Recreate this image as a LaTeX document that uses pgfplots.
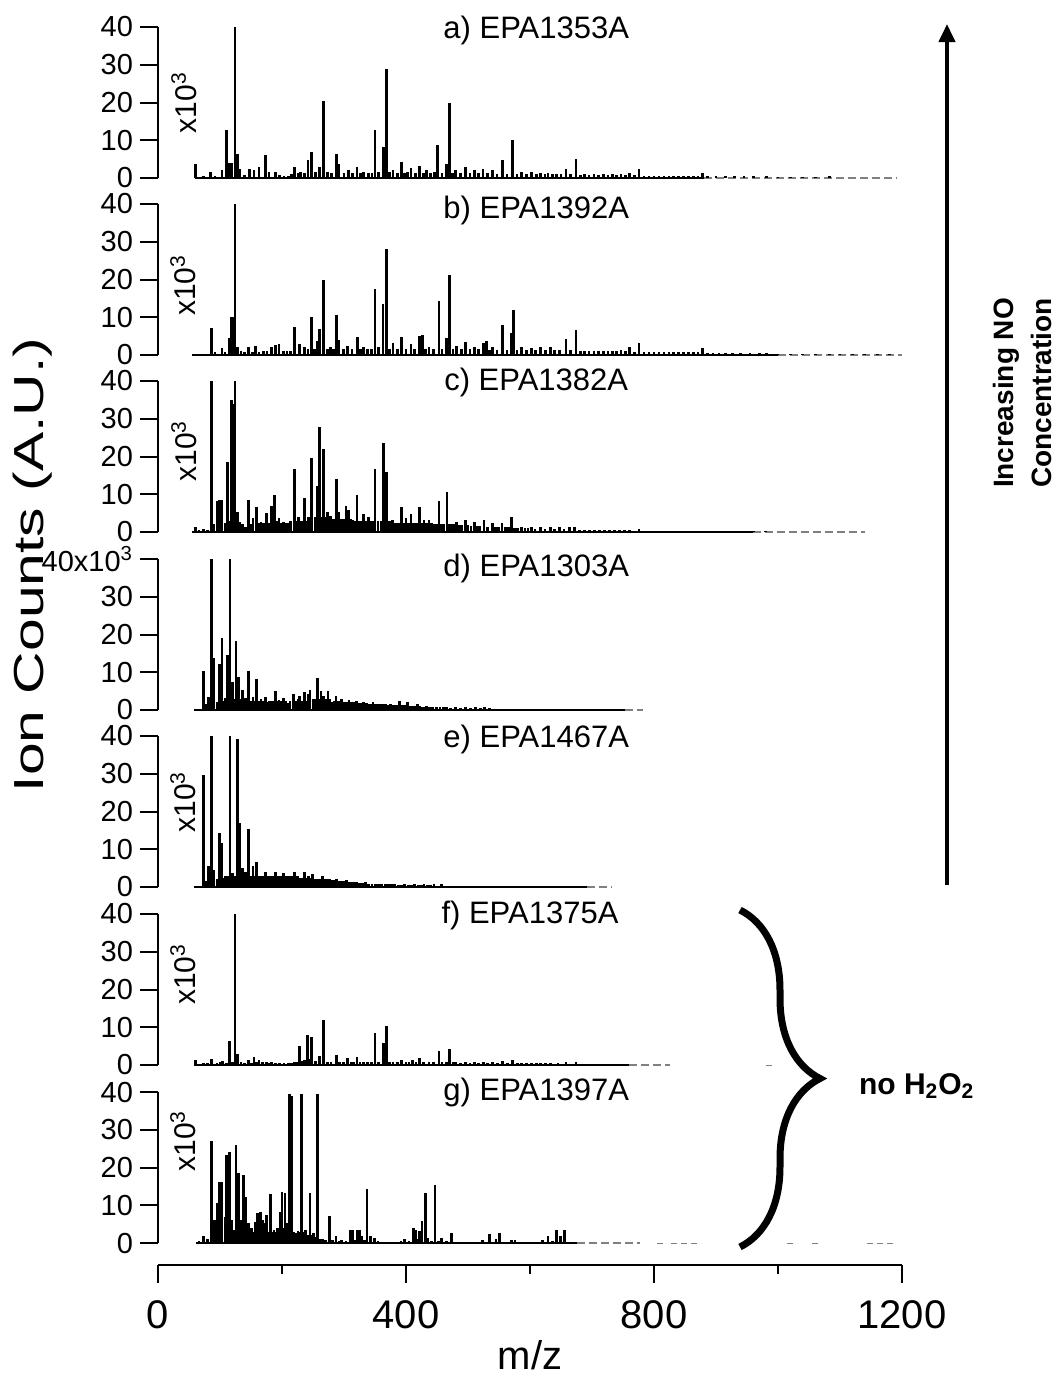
\documentclass[border=0pt]{standalone}
\usepackage{pgfplots}
\pgfplotsset{compat=1.18}
\usepackage{fontspec}
\setmainfont{Liberation Sans}
\setsansfont{Liberation Sans}
\usetikzlibrary{arrows.meta,decorations.pathreplacing}
\pgfplotsset{
 panel/.style={width=372pt,height=75.5pt,scale only axis,xmin=0,xmax=1200,ymin=0,ymax=40,
  axis x line=none, axis y line*=left, ytick={0,10,20,30,40}, tick align=outside,
  major tick length=9pt,
  axis line style={line width=1pt}, every tick/.style={black,line width=1pt},
  yticklabel style={font=\fontsize{14.5}{14.5}\selectfont},
  /pgf/number format/assume math mode=true, clip=false, anchor=south west},
 spec/.style={ycomb, black, line width=1.35pt, forget plot},
 base/.style={black, line width=0.6pt, forget plot},
 ext/.style={gray, line width=0.6pt, dash pattern=on 4pt off 2pt, forget plot},
 dots/.style={only marks, mark=-, mark size=1.5pt, gray, forget plot},
}
\newcommand{\ttl}[3]{\node[font=\fontsize{15.5}{15.5}\selectfont] at (axis cs:#1,#2) {#3};}
\newcommand{\xten}[2]{\node[rotate=90,font=\fontsize{15}{15}\selectfont] at (axis cs:#1,#2) {x10\textsuperscript{3}};}
\begin{document}
\begin{tikzpicture}
\path[use as bounding box] (0,0) rectangle (530pt,-689pt);

% a
\begin{axis}[panel, at={(79pt,-89pt)}]
\addplot[base] coordinates {(60,0) (880,0)};
\addplot[ext] coordinates {(880,0) (1190,0)};
\addplot[spec] coordinates {(60,3.7)(73,0.6)(85,1.5)(92,0.5)(103,2)(111,12.6)(115,4)(119,4)(124,40)(128,6.4)(132,2.4)(140,0.8)(148,2.4)(155,2)(163,2.8)(173,6.1)(179,1.5)(189,1.7)(196,0.7)(203,0.5)(210,0.6)(215,1)(220,3)(226,1.2)(230,1.5)(236,1.2)(242,4.8)(248,6.8)(254,1.5)(261,2.8)(267,20.4)(273,1.5)(280,1.2)(288,6.4)(292,3.7)(300,1.2)(307,2.2)(314,1.2)(321,2.8)(327,1.2)(332,1.5)(340,1.3)(345,1.2)(350,12.6)(356,1.5)(364,8.1)(368,28.8)(373,1.5)(379,2)(386,1.2)(393,4.3)(398,1.2)(402,1.5)(408,2.6)(415,1.2)(422,3.3)(428,1.2)(433,2)(440,1.2)(446,1.5)(451,8.8)(458,1.2)(465,3.7)(470,20)(475,1.2)(480,2)(488,1.2)(496,2.8)(503,1.2)(510,2)(517,1.2)(524,2.4)(532,1.2)(540,2.2)(547,1)(556,4.8)(563,1)(572,10.2)(579,1)(586,1.5)(594,1)(602,1.5)(610,1)(617,1.3)(624,1)(629,1.3)(636,1)(643,1)(650,1)(658,2.4)(665,1)(674,5)(681,0.8)(688,1)(695,0.8)(703,1)(710,0.8)(718,1)(726,0.8)(733,1)(740,0.7)(747,1)(754,0.7)(761,1.3)(769,0.7)(776,2.4)(784,0.6)(792,0.6)(800,0.6)(808,0.6)(816,0.5)(824,0.6)(832,0.5)(840,0.6)(848,0.5)(856,0.6)(864,0.5)(871,0.6)(878,1.3)(886,0.4)(900,0.4)(915,0.4)(930,0.4)(945,0.4)(960,0.4)(981,0.6)(1000,0.3)(1020,0.3)(1040,0.3)(1060,0.3)(1083,0.4)};
\ttl{610}{39}{a) EPA1353A}
\xten{42}{20}
\end{axis}

% b
\begin{axis}[panel, at={(79pt,-177.5pt)}]
\addplot[base] coordinates {(55,0) (1000,0)};
\addplot[ext] coordinates {(1000,0) (1200,0)};
\addplot[spec] coordinates {(60,0.3)(73,0.4)(86,7.1)(92,0.8)(103,1.8)(108,0.8)(115,4.4)(118,10)(122,10)(124,40)(128,2.2)(134,1)(140,0.8)(146,2.2)(152,0.8)(157,2.5)(163,0.8)(170,1)(176,1)(183,2.2)(189,2.7)(195,2.8)(202,1)(208,1)(214,1)(220,7.3)(228,2.8)(236,2)(242,1.5)(248,10)(252,1.5)(257,3.7)(261,6.9)(267,19.8)(273,1.5)(278,2)(283,1.5)(288,10.7)(292,4)(299,1.5)(306,2.5)(313,1.5)(322,4.9)(327,1.5)(332,2)(338,1.5)(344,1.5)(350,17.6)(356,2)(363,13.6)(368,28)(373,1.5)(379,3.1)(386,1.5)(393,4.7)(400,1.5)(408,2.8)(414,1.5)(422,5.1)(427,5.2)(432,1.5)(437,2)(444,1.5)(453,14.4)(458,1.5)(465,4.4)(470,21.3)(476,1.5)(482,2.4)(489,1.5)(496,3.4)(503,1.5)(510,2.2)(517,1.5)(525,3.1)(530,3.7)(535,1.3)(540,2)(547,1.3)(556,8)(563,1.3)(570,5.8)(573,12)(579,1.2)(586,2)(594,1.2)(602,1.8)(609,1.2)(617,2)(625,1.2)(633,2.2)(640,1.2)(648,1.3)(658,4.2)(665,1.2)(674,6.7)(681,1)(688,1.1)(695,1)(703,1)(710,1)(718,1)(726,1)(733,1)(740,1)(747,1.2)(754,1)(761,2)(769,0.8)(776,3.1)(784,0.8)(792,0.8)(800,0.7)(808,0.8)(816,0.7)(824,0.7)(832,0.7)(840,0.7)(848,0.7)(856,0.7)(864,0.7)(871,0.8)(878,1.8)(886,0.5)(895,0.5)(905,0.5)(915,0.5)(927,0.5)(940,0.5)(955,0.5)(970,0.5)(981,0.6)(1000,0.4)(1020,0.4)(1040,0.4)(1060,0.3)(1083,0.4)(1100,0.3)(1120,0.3)(1140,0.3)(1160,0.3)(1180,0.3)};
\ttl{610}{38.4}{b) EPA1392A}
\xten{40}{18.5}
\end{axis}

% c
\begin{axis}[panel, at={(79pt,-266pt)}]
\addplot[base] coordinates {(55,0) (960,0)};
\addplot[ext] coordinates {(960,0) (1140,0)};
\addplot[spec] coordinates {(60,1.4)(66,0.5)(73,0.9)(80,0.6)(86,40)(90,2)(95,8.1)(99,8.6)(103,8.6)(108,2.5)(112,18.5)(116,3)(118,35)(120,34)(124,40)(128,5.4)(132,2.7)(136,2)(141,1.4)(146,8.6)(150,2)(153,3.6)(159,6.5)(163,2.5)(166,2.7)(170,2.5)(175,5.1)(179,2.5)(183,6.8)(188,9.9)(192,3)(195,3.6)(199,2.5)(202,2.7)(206,2.5)(210,2.3)(214,3)(220,16.7)(223,3)(227,4)(231,3)(236,9)(239,3)(243,4)(245,3.5)(248,19.5)(253,4)(257,12.2)(261,27.7)(264,4)(267,22)(270,4)(273,5.4)(278,4.3)(282,3.5)(285,3.5)(288,14.1)(292,5.4)(296,3.5)(299,3.5)(303,7)(307,5.9)(310,3.5)(314,3.2)(318,3)(321,9.9)(325,3)(328,3)(332,4.7)(336,3)(339,4)(343,3)(346,3)(350,16.7)(355,2.9)(360,3)(364,23.7)(368,16)(372,3)(375,3)(378,3.2)(382,2.5)(386,2.5)(389,2.5)(393,6.5)(397,2.5)(400,3.6)(404,2.5)(408,4.7)(412,2.5)(415,2.5)(418,2.5)(422,6.5)(426,2.5)(429,3.3)(433,2.5)(437,3.2)(441,2.5)(445,2)(449,2)(453,8.3)(457,2)(461,2)(466,10.5)(470,2)(474,2)(478,2)(482,2.7)(486,1.8)(490,1.8)(496,3.3)(500,1.8)(505,1.5)(510,2.7)(514,1.5)(519,1.5)(526,3.2)(531,1.4)(539,2.5)(544,1.3)(549,1.2)(555,2.3)(560,1.2)(565,1.2)(570,4)(575,1)(580,1)(586,1.2)(592,1)(597,1)(602,1.2)(608,0.9)(617,1.2)(624,0.9)(633,1.2)(640,0.8)(648,1.2)(655,0.7)(664,1.2)(672,1.4)(680,0.6)(688,0.6)(696,0.6)(704,0.6)(712,0.6)(720,0.6)(728,0.6)(736,0.5)(744,0.5)(752,0.5)(760,0.5)(776,0.9)(790,0.4)(805,0.4)(820,0.4)(835,0.3)(850,0.3)(865,0.3)(880,0.3)(900,0.3)(920,0.3)(940,0.3)(960,0.3)(980,0.3)};
\ttl{610}{39.7}{c) EPA1382A}
\xten{42}{21.5}
\end{axis}

% d
\begin{axis}[panel, at={(79pt,-355pt)}, yticklabels={0,10,20,30,{40x10\textsuperscript{3}}}]
\addplot[base] coordinates {(58,0) (754,0)};
\addplot[ext] coordinates {(754,0) (782,0)};
\addplot[spec] coordinates {(61,0.4)(73,10.4)(77,1.5)(81,3.5)(86,40)(90,13.7)(95,2.2)(99,12.1)(103,19.2)(106,2.5)(108,3.1)(112,14.6)(116,40)(120,7.5)(123,3)(126,18.3)(130,8.8)(133,3)(136,5.3)(139,2.5)(141,3.1)(144,2.5)(146,10.3)(150,2.5)(153,3.5)(156,2.5)(159,8.2)(163,2.5)(166,2.9)(169,2.5)(173,3.5)(176,2)(179,2.4)(183,2.5)(186,2.5)(189,5)(192,2.5)(195,2.6)(199,2.5)(202,3.1)(206,2.5)(209,1.8)(213,2.5)(218,4.2)(222,2.5)(226,2.9)(228,3.7)(232,2.5)(236,4.7)(240,2.5)(243,4.2)(245,5.3)(250,3)(253,3)(257,8.6)(260,3)(263,5)(267,3.7)(270,3)(274,5)(277,3)(281,2.2)(284,2.5)(287,3.7)(291,2.5)(296,2.9)(300,2)(304,2)(308,2.6)(312,2)(316,2)(320,2.4)(324,1.8)(328,1.8)(332,2.2)(336,1.8)(340,1.5)(344,1.5)(347,2.2)(351,1.5)(355,1.5)(359,1.5)(363,1.5)(367,1.5)(371,1.3)(375,1.5)(379,1.2)(383,1.3)(387,1.2)(390,2.4)(394,1.2)(398,1.2)(402,2.2)(406,1)(410,1)(414,1)(418,1.5)(422,1)(426,0.9)(430,0.9)(433,1.1)(438,0.8)(443,0.8)(449,0.7)(455,0.7)(460,0.7)(465,0.7)(472,0.6)(480,0.7)(488,0.6)(496,0.7)(504,0.5)(512,0.7)(520,0.5)(527,0.7)(535,0.6)(545,0.4)(555,0.4)(565,0.4)(575,0.4)(590,0.3)(605,0.3)(620,0.3)(640,0.3)(660,0.3)(680,0.3)(700,0.3)};
\ttl{610}{37.6}{d) EPA1303A}
\end{axis}

% e
\begin{axis}[panel, at={(79pt,-443.5pt)}]
\addplot[base] coordinates {(58,0) (692,0)};
\addplot[ext] coordinates {(692,0) (731,0)};
\addplot[spec] coordinates {(61,0.2)(73,29.6)(77,1.5)(81,5.5)(86,40)(90,4.6)(95,2)(99,14.2)(103,11.6)(106,2.5)(108,2.8)(112,2.8)(116,40)(120,3.7)(124,3)(128,39.3)(132,16.9)(136,5)(139,3)(141,4.1)(144,3)(146,15.4)(150,3)(153,5.5)(156,3)(159,6.5)(163,3)(166,2.8)(169,3)(173,3.9)(176,3)(179,2.8)(183,3)(186,3)(189,3.9)(192,3)(195,2.8)(199,3)(202,3.7)(206,3)(209,3)(213,3)(216,3)(220,3.9)(223,2.8)(226,2.8)(230,2.5)(233,2.5)(236,3.9)(240,2.5)(243,3)(246,2.5)(249,3.5)(253,2.2)(257,2.2)(261,2.2)(265,3)(269,2)(273,2)(277,2.1)(281,1.8)(285,1.8)(288,2.1)(292,1.5)(296,1.5)(300,1.5)(304,1.8)(308,1.3)(312,1.2)(316,1.2)(320,1.2)(324,1)(328,1)(332,1)(335,1.2)(340,0.9)(345,0.9)(351,0.8)(356,0.8)(361,0.8)(367,0.8)(372,0.7)(377,0.7)(382,0.8)(388,0.6)(393,0.6)(398,0.8)(404,0.6)(409,0.6)(414,0.8)(420,0.5)(425,0.5)(429,0.8)(435,0.5)(440,0.5)(445,0.8)(451,0.4)(457,0.8)(465,0.4)(475,0.4)(485,0.4)(495,0.4)(505,0.3)(515,0.3)(530,0.3)(545,0.3)(560,0.3)(575,0.3)(590,0.3)};
\ttl{610}{39.2}{e) EPA1467A}
\xten{40}{22.5}
\end{axis}

% f
\begin{axis}[panel, at={(79pt,-532.5pt)}]
\addplot[base] coordinates {(58,0) (760,0)};
\addplot[ext] coordinates {(760,0) (825,0)};
\addplot[dots] coordinates {(985,0)};
\addplot[spec] coordinates {(60,1.2)(73,0.5)(80,0.5)(86,1.6)(95,0.5)(100,0.9)(104,1)(110,0.6)(115,6.3)(120,0.8)(124,40)(128,2.9)(134,0.8)(140,0.6)(146,1.2)(151,0.6)(155,2)(159,0.8)(163,1.2)(168,0.8)(175,0.9)(179,0.6)(183,0.9)(189,0.6)(196,0.5)(203,0.5)(210,0.5)(215,0.6)(220,0.9)(224,0.8)(228,5)(232,1)(236,1.2)(241,8)(245,1.5)(248,7.4)(254,1)(261,2.5)(267,11.9)(273,0.9)(279,0.8)(288,2.7)(293,0.8)(299,0.8)(306,1.8)(312,0.8)(316,0.8)(321,2.2)(326,0.8)(332,0.9)(338,0.8)(344,0.8)(350,8.5)(356,0.8)(364,5.9)(368,10.4)(373,0.8)(379,0.9)(386,0.8)(393,1.2)(400,0.8)(405,0.8)(410,1.2)(416,0.8)(422,1.8)(428,0.8)(437,0.9)(444,0.8)(453,3.7)(458,0.8)(465,0.8)(470,4.3)(476,0.7)(480,0.7)(488,0.6)(496,0.7)(503,0.6)(510,0.7)(517,0.6)(525,0.7)(532,0.6)(540,0.7)(548,0.6)(556,1)(564,0.5)(572,1.2)(580,0.5)(586,0.5)(594,0.5)(602,0.5)(610,0.5)(617,0.5)(625,0.5)(633,0.5)(645,0.5)(658,0.7)(666,0.4)(674,0.7)(690,0.3)(705,0.3)(720,0.3)(735,0.3)(750,0.3)};
\ttl{600}{39.5}{f) EPA1375A}
\xten{40}{24}
\end{axis}

% g
\begin{axis}[panel, at={(79pt,-621.5pt)}]
\addplot[base] coordinates {(62,0) (676,0)};
\addplot[ext] coordinates {(676,0) (778,0)};
\addplot[dots] coordinates {(809,0)(833,0)(848,0)(864,0)(1019,0)(1060,0)(1148,0)(1165,0)(1180,0)};
\addplot[spec] coordinates {(66,0.5)(73,1.8)(80,1)(86,27)(91,6.2)(95,10.6)(99,16.1)(103,16.1)(108,7)(111,23.2)(115,24)(118,6.2)(122,3.5)(126,26)(130,18.6)(134,6.2)(138,18.1)(142,12.2)(146,5.3)(149,3)(151,4)(154,3)(157,5.5)(161,8)(165,8.1)(169,6.2)(172,5.3)(175,7.3)(178,3)(181,13.1)(184,3)(187,3.5)(190,3)(193,4)(197,8.1)(200,13.5)(203,4)(205,13.3)(208,5.3)(212,39.5)(214,3)(216,39)(219,3)(222,2.7)(226,3.1)(228,3)(231,39.5)(234,3)(238,3.5)(241,2)(245,13.3)(248,2)(251,2.7)(254,1.5)(257,39.5)(261,1.1)(265,1)(270,0.8)(277,7.1)(282,0.8)(287,1.8)(292,0.6)(296,0.9)(303,0.5)(310,3.4)(314,3.4)(318,0.8)(321,3.5)(325,3.5)(329,1.8)(333,0.8)(337,14.2)(343,1.9)(349,1.3)(355,0.5)(365,0.4)(375,0.4)(385,0.4)(392,0.6)(398,1.1)(405,0.5)(412,4)(416,3.4)(419,1)(422,3.1)(426,5.8)(431,13.3)(435,1.3)(441,0.6)(447,15.5)(452,0.6)(457,1.3)(465,0.5)(473,2.7)(480,0.4)(490,0.3)(500,0.3)(510,0.3)(523,0.9)(530,0.4)(535,2.5)(540,0.4)(545,1.1)(551,2.7)(558,0.4)(565,0.4)(570,0.7)(576,0.7)(585,0.3)(595,0.3)(605,0.3)(612,0.4)(620,0.9)(625,0.4)(629,1.9)(636,0.5)(643,3.5)(649,1.9)(656,3.4)(662,0.4)(670,0.3)};
\ttl{610}{40}{g) EPA1397A}
\xten{40}{27}
\end{axis}

% bottom m/z axis
\begin{axis}[width=372pt,height=10pt,scale only axis,at={(79pt,-632.5pt)},anchor=south west,
  xmin=0,xmax=1200,ymin=0,ymax=1,axis y line=none,axis x line*=bottom,
  xtick={0,400,800,1200},minor xtick={200,600,1000},tick align=outside,
  major tick length=9pt,minor tick length=4.5pt,
  axis line style={line width=1pt}, every tick/.style={black,line width=1pt},
  xticklabel style={font=\fontsize{20}{20}\selectfont, yshift=-5pt},
  /pgf/number format/assume math mode=true,
  /pgf/number format/1000 sep={},
  xlabel={m/z}, xlabel style={font=\fontsize{20}{20}\selectfont, yshift=1pt}]
\addplot[draw=none, forget plot] coordinates {(0,0)(1200,0)};
\end{axis}

\node[rotate=90] at (16.5pt,-282.5pt) {\scalebox{1.4}[1]{\fontsize{21}{21}\selectfont Ion Counts (A.U.)}};

\draw[line width=2pt, -{Triangle[width=8pt,length=9pt]}] (473.5pt,-442.5pt) -- (473.5pt,-12pt);
\node[rotate=90, align=center, font=\bfseries\fontsize{14}{19}\selectfont] at (511pt,-196.5pt) {Increasing NO\\Concentration};
\draw[decorate,decoration={brace,amplitude=40pt},line width=3.5pt] (370pt,-455pt) -- (370pt,-623.5pt);
\node[anchor=west,font=\bfseries\fontsize{15}{15}\selectfont] at (426pt,-543pt) {no H\textsubscript{2}O\textsubscript{2}};
\end{tikzpicture}
\end{document}
